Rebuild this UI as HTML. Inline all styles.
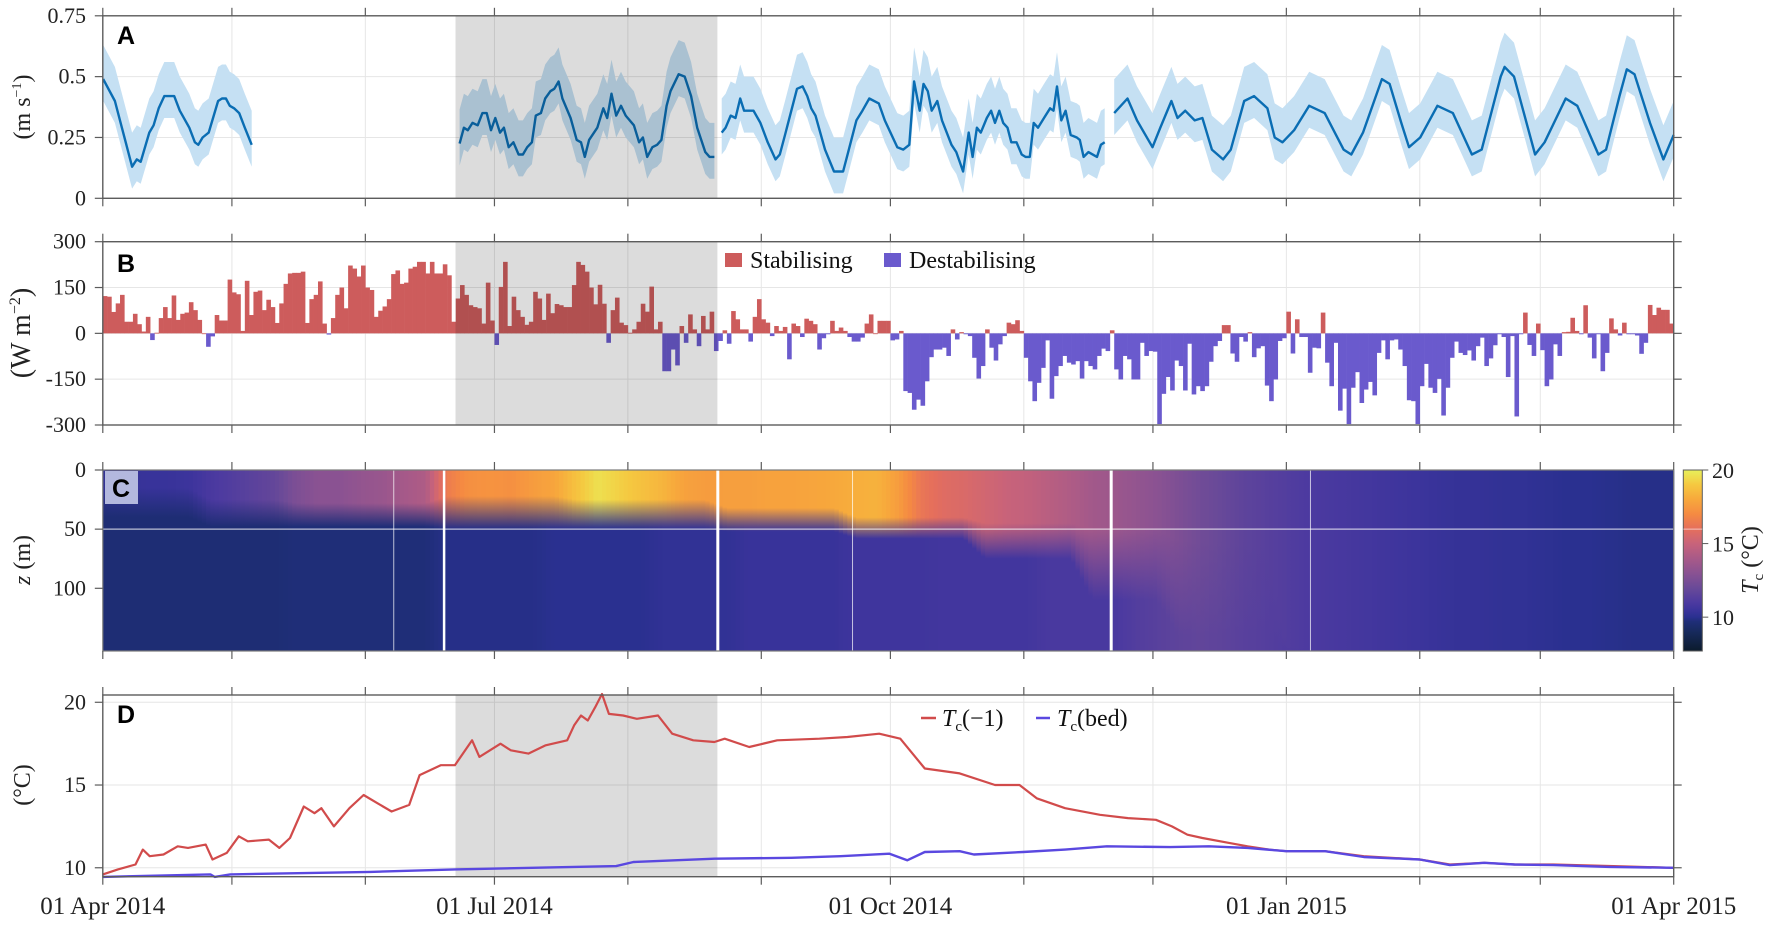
<!DOCTYPE html>
<html><head><meta charset="utf-8"><style>
html,body{margin:0;padding:0;background:#fff;}
svg{display:block;font-family:"Liberation Serif",serif;}
</style></head><body>
<svg id="fig" width="1772" height="925" viewBox="0 0 1772 925" xmlns="http://www.w3.org/2000/svg"></svg>
<script>
// ---------- DATA ----------
const monthTickDays = [0,30,61,91,122,153,183,214,244,275,306,334,365];
const xLabelDays = [0,91,183,275,365];
const xLabels = ["01 Apr 2014","01 Jul 2014","01 Oct 2014","01 Jan 2015","01 Apr 2015"];
const shadeStart = 81.95, shadeEnd = 142.8;

// Panel A: speed
const speedDays = [0.1,2.8,6.8,7.9,8.8,10.8,11.8,13,14.3,16.6,17.9,20.1,21.4,22.2,23.2,24.6,26.8,27.7,28.6,29.5,30.5,31.7,33,34.6,null,
82.9,83.9,84.8,85.9,87.1,88.2,89.2,90.2,91.2,92.3,93.2,94.3,95.4,96.6,97.6,98.6,99.7,100.6,101.8,102.8,104,104.9,105.9,106.8,108.7,110.1,111.1,112,113,114.9,116.3,117.2,118.2,119.3,120.4,121.5,123.4,124.6,125.5,126.5,127.7,128.8,129.8,131,131.9,133.8,135.2,136.7,138.1,140,141,142.1,null,
143.8,144.7,145.9,147,148.1,149,151.2,152.8,154.5,156.3,157.3,158.5,161.3,162.6,163.7,164.6,165.6,167.8,169.9,170.8,172,173.2,175.1,176.5,178.1,180.3,181.7,184.6,186,187.4,188.5,189.8,190.7,191.7,192.6,193.9,195,197.2,198.3,199.9,201.2,202.1,203.1,204,205.4,206.4,207.3,208.3,209.2,210.2,211.1,212.3,213.5,214.4,215.4,216.3,217.3,218.7,220.1,220.9,221.7,222.7,223.7,224.9,226.3,227,227.9,229,231,231.9,232.8,null,
235,238.1,240.3,243.9,245.7,248.3,249.7,251.5,253.7,255.5,257.7,260.3,262.1,265.2,267.5,270.6,272.3,274.1,276.8,280.3,283.9,288.3,290.1,292.8,297.2,299,301.7,303.5,306.1,310.1,313.7,318.1,320.4,324.8,325.7,327.9,332.8,335,339.9,342.6,347.5,349.3,352.4,354.1,355.9,359.5,362.6,365];
const speedMean = [.49,.40,.13,.16,.15,.27,.30,.37,.42,.42,.36,.29,.23,.22,.25,.27,.40,.41,.41,.38,.37,.35,.29,.22,null,
.225,.29,.28,.31,.30,.35,.35,.28,.33,.27,.29,.21,.23,.18,.18,.21,.23,.34,.35,.41,.44,.45,.48,.41,.33,.24,.23,.17,.24,.29,.37,.33,.43,.34,.38,.34,.30,.23,.25,.17,.21,.22,.24,.38,.44,.51,.50,.42,.29,.19,.17,.17,null,
.27,.29,.34,.33,.41,.36,.36,.31,.23,.16,.18,.26,.45,.46,.42,.37,.34,.20,.11,.11,.11,.19,.32,.36,.41,.39,.32,.21,.20,.22,.48,.36,.47,.44,.36,.40,.32,.22,.19,.11,.27,.17,.29,.27,.33,.36,.31,.36,.31,.29,.23,.23,.18,.17,.17,.31,.29,.33,.37,.36,.46,.32,.36,.26,.25,.24,.17,.19,.17,.22,.23,null,
.35,.41,.32,.21,.29,.40,.33,.36,.32,.33,.20,.16,.20,.40,.42,.37,.25,.23,.28,.38,.35,.20,.18,.27,.49,.47,.31,.21,.25,.38,.35,.18,.20,.50,.54,.50,.18,.23,.41,.38,.18,.20,.42,.53,.51,.31,.16,.26];
const bandUp = 0.14, bandDown = 0.09;
const speedTicks = [0,0.25,0.5,0.75];
const speedTickLabels = ["0","0.25","0.5","0.75"];

// Panel B: daily heat flux (W m^-2), day 0..364
const fluxValues = [122,120,70,98,126,38,38,64,30,6,54,-22,2,50,86,50,124,44,64,68,102,76,44,0,-44,-10,60,42,42,176,134,128,8,172,60,136,140,76,110,86,34,98,162,196,198,198,202,34,112,126,170,32,-4,50,126,150,82,222,212,186,222,150,142,54,74,88,112,194,206,162,166,212,218,234,234,196,234,196,196,226,190,38,114,158,126,92,86,82,32,166,42,-38,152,234,24,120,76,54,28,38,136,114,44,130,66,96,92,86,86,158,234,224,202,
150,95,159,97,-31,76,117,35,27,2,13,38,97,71,153,13,38,-124,-124,-53,-105,24,-31,62,13,-42,57,13,71,-58,-25,10,-34,73,46,13,13,-27,54,112,46,35,-9,24,8,21,-85,32,24,-12,48,41,30,-53,-16,-3,41,8,19,8,-12,-27,-27,-14,32,62,0,41,41,41,-23,-20,8,-189,-195,-250,-217,-237,-157,-78,-53,-53,-47,-74,13,-20,4,-3,-9,-80,-148,-107,13,-47,-89,-36,-9,35,30,43,8,-80,-157,-222,-162,-113,-23,-214,-140,-107,-74,-96,-102,-91,-148,-91,-107,-118,-74,-50,-58,10,-118,-151,-74,-85,-151,-151,
-31,-74,-58,-60,-297,-198,-143,-187,-89,-107,-187,-34,-200,-173,-189,-173,-93,-42,-25,27,27,-66,-93,-12,-27,4,-78,-49,-42,-171,-222,-151,-25,-16,71,-66,46,-12,-12,-129,-47,-49,68,-96,-173,-31,-253,-181,-297,-178,-127,-228,-184,-159,-203,-64,-23,-85,-23,-20,-53,-107,-219,-222,-297,-173,-100,-178,-195,-149,-269,-178,-80,-27,-64,-71,-56,-89,-42,-14,-107,-82,-39,-3,-12,-143,-9,-272,-3,68,-38,-74,32,-55,-173,-151,-36,-74,4,5,51,8,-3,92,-14,-82,-3,-124,-64,49,13,-7,35,-3,-3,-7,-67,-31,93,60,84,77,77,32];
const fluxTicks = [-300,-150,0,150,300];
const fluxTickLabels = ["-300","-150","0","150","300"];

// Panel C: temperature section
const heatDays = [0,5,10,15,20,25,30,35,40,45,50,55,60,65,70,75,80,85,90,95,100,105,110,115,120,125,130,135,140,145,150,155,160,165,170,175,180,185,190,195,200,205,210,215,220,225,230,235,240,245,250,255,260,265,270,275,280,285,290,295,300,305,310,315,320,325,330,335,340,345,350,355,360,365];
const surfT = [10.2,10.3,10.4,10.4,10.5,10.9,11.2,11.5,11.8,12.6,13.0,13.0,13.3,13.5,13.9,14.2,16.5,17.2,17.3,17.2,17.6,17.9,18.8,19.6,19.2,18.8,18.4,17.8,17.6,17.7,17.7,17.8,17.8,17.9,18.0,18.2,18.3,17.6,16.3,15.8,15.6,15.3,15.0,14.8,14.5,14.2,13.8,13.6,13.3,13.0,12.6,12.2,11.9,11.6,11.4,11.2,11.0,10.9,10.8,10.7,10.6,10.5,10.4,10.3,10.3,10.2,10.2,10.1,10.0,10.0,9.95,9.9,9.9,9.9];
const bedT = [9.6,9.6,9.6,9.6,9.6,9.6,9.6,9.6,9.6,9.7,9.7,9.7,9.7,9.7,9.7,9.7,9.9,9.9,9.9,9.9,9.9,10.0,10.0,10.0,10.0,10.0,10.2,10.2,10.2,10.2,10.4,10.4,10.4,10.4,10.4,10.6,10.6,10.6,10.6,10.7,10.7,10.7,10.7,10.7,10.9,10.9,10.9,10.9,11.2,11.4,11.6,11.7,11.6,11.4,11.3,11.1,11.0,10.9,10.8,10.7,10.6,10.5,10.4,10.3,10.3,10.2,10.2,10.1,10.0,10.0,9.95,9.9,9.9,9.9];
const mldTop = [15,15,15,15,15,25,25,25,25,28,28,28,28,28,28,28,22,22,22,22,22,22,25,25,25,25,25,25,25,32,32,32,32,32,32,40,40,40,40,40,40,45,45,45,45,45,50,50,50,50,60,60,60,60,60,150,150,150,150,150,150,150,150,150,150,150,150,150,150,150,150,150,150,150];
const mldBottom = [40,40,40,40,40,48,48,48,48,48,48,48,48,48,48,48,50,50,50,50,50,50,50,50,50,50,50,50,50,52,52,52,52,52,52,58,58,58,58,58,58,75,75,75,75,75,110,110,110,110,140,140,140,140,140,153,153,153,153,153,153,153,153,153,153,153,153,153,153,153,153,153,153,153];
const gapDays = [67.6,79.3,142.9,174.2,234.3,280.6];
const gapWidths = [1,2.5,3,1,3,1];
const depthTicks = [0,50,100];
const cbTicks = [10,15,20];

// Panel D: temperature series
const redDays = [0,3.5,7.6,9.3,10.9,14.1,17.4,19.8,23.9,25.5,28.8,31.6,33.7,38.6,41,43.5,46.7,49.2,50.8,53.7,57.3,60.6,63.8,67.1,71.2,73.6,78.5,81.8,85.8,87.5,92.4,94.8,98.9,102.9,107.9,109.5,111.1,112.7,114.4,116,117.6,120.9,124.1,129,132.3,137.2,142.1,144.5,150.2,156.7,166.5,173,180.4,185.3,191,199.1,207.3,213,217,223.6,231.7,238.2,244.7,248.4,252,255.5,261.7,266,271,275,284,293,306,313,321,328,337,351,365];
const redT = [9.6,9.9,10.2,11.1,10.7,10.8,11.3,11.2,11.4,10.5,10.9,11.9,11.6,11.7,11.2,11.8,13.7,13.3,13.6,12.5,13.6,14.4,13.9,13.4,13.8,15.6,16.2,16.2,17.7,16.7,17.5,17.1,16.9,17.4,17.7,18.6,19.2,18.9,19.7,20.5,19.3,19.2,19.0,19.2,18.1,17.7,17.6,17.8,17.3,17.7,17.8,17.9,18.1,17.8,16.0,15.7,15.0,15.0,14.2,13.6,13.2,13.0,12.9,12.5,12.0,11.8,11.5,11.3,11.1,11.0,11.0,10.7,10.5,10.2,10.3,10.2,10.2,10.1,10.0];
const bedDays = [0,25,26,29.6,62.2,81.8,119.3,123.3,142.1,160,171.4,182.8,186.9,191,199.1,202.4,213.8,223.6,233.3,248,257,266,275,284,293,306,313,321,328,337,350,365];
const bedSeries = [9.45,9.6,9.45,9.6,9.75,9.9,10.1,10.35,10.55,10.6,10.7,10.85,10.45,10.95,11.0,10.8,10.95,11.1,11.3,11.25,11.3,11.2,11.0,11.0,10.65,10.5,10.16,10.3,10.2,10.16,10.05,10.0];
const tempTicks = [10,15,20];

// ---------- LAYOUT ----------
const X0 = 102.8, X1 = 1673.7;
const xs = d => X0 + d/365*(X1-X0);
const A = {top:15.8,bottom:198.3,min:0,max:0.75};
const B = {top:241.7,bottom:425,min:-300,max:300};
const C = {top:470,bottom:651,min:0,max:153};
const D = {top:695,bottom:876.7,min:9.46,max:20.44};
const yA = v => A.bottom - (v-A.min)/(A.max-A.min)*(A.bottom-A.top);
const yB = v => B.bottom - (v-B.min)/(B.max-B.min)*(B.bottom-B.top);
const yC = z => C.top + (z-C.min)/(C.max-C.min)*(C.bottom-C.top);
const yD = v => D.bottom - (v-D.min)/(D.max-D.min)*(D.bottom-D.top);

const svg = document.getElementById('fig');
const NS = "http://www.w3.org/2000/svg";
function el(tag, attrs, parent){const e=document.createElementNS(NS,tag);for(const k in attrs)e.setAttribute(k,attrs[k]);(parent||svg).appendChild(e);return e;}
function txt(s, attrs, parent){const t=el('text',attrs,parent);t.textContent=s;return t;}

const defs = el('defs',{});

// colormap
const cmap = [[7.7,[11,27,44]],[9,[23,42,92]],[9.7,[31,46,120]],[10,[42,48,144]],[10.5,[60,52,156]],[11,[76,58,160]],[12,[106,74,152]],[13,[138,82,146]],[14,[168,90,136]],[15,[200,99,122]],[16,[229,111,92]],[17,[245,138,66]],[18,[247,168,60]],[19,[245,200,64]],[20,[232,240,90]]];
function color(t){
  if(t<=cmap[0][0])return 'rgb('+cmap[0][1]+')';
  for(let i=1;i<cmap.length;i++){if(t<=cmap[i][0]){const a=cmap[i-1],b=cmap[i];const f=(t-a[0])/(b[0]-a[0]);return 'rgb('+a[1].map((c,j)=>Math.round(c+(b[1][j]-c)*f)).join(',')+')';}}
  return 'rgb('+cmap[cmap.length-1][1]+')';
}
function interp(days, vals, d){
  if(d<=days[0])return vals[0];
  for(let i=1;i<days.length;i++){ if(d<=days[i]){const f=(d-days[i-1])/(days[i]-days[i-1]);return vals[i-1]+(vals[i]-vals[i-1])*f;} }
  return vals[vals.length-1];
}

function gridAndFrame(P, yf, ticks, labels, name){
  const g = el('g',{});
  
  
  monthTickDays.forEach(d=>{ el('line',{x1:xs(d),x2:xs(d),y1:P.top,y2:P.bottom,stroke:'#e6e6e6','stroke-width':1},g); });
  ticks.forEach(v=>{ el('line',{x1:X0,x2:X1,y1:yf(v),y2:yf(v),stroke:'#e6e6e6','stroke-width':1},g); });
}
function frame(P, yf, ticks, labels, name, rightTicks){
  const g = el('g',{});
  
  
  el('rect',{x:X0,y:P.top,width:X1-X0,height:P.bottom-P.top,fill:'none',stroke:'#5c5c5c','stroke-width':1.4},g);
  monthTickDays.forEach(d=>{
    el('line',{x1:xs(d),x2:xs(d),y1:P.top,y2:P.top-8,stroke:'#5c5c5c','stroke-width':1.2},g);
    el('line',{x1:xs(d),x2:xs(d),y1:P.bottom,y2:P.bottom+8,stroke:'#5c5c5c','stroke-width':1.2},g);
  });
  ticks.forEach((v,i)=>{
    el('line',{x1:X0-8,x2:X0,y1:yf(v),y2:yf(v),stroke:'#5c5c5c','stroke-width':1.2},g);
    if(rightTicks) el('line',{x1:X1,x2:X1+8,y1:yf(v),y2:yf(v),stroke:'#5c5c5c','stroke-width':1.2},g);
    const t = txt(labels[i],{x:86,y:yf(v)+7,'text-anchor':'end','font-size':22,fill:'#222'},g);
    
    
  });
}
function shade(P,name){
  const r = el('rect',{x:xs(shadeStart),y:P.top,width:xs(shadeEnd)-xs(shadeStart),height:P.bottom-P.top,fill:'#dcdcdc',style:'mix-blend-mode:multiply'});
  
  
}
function panelLetter(s,x,y,name){
  const t = txt(s,{x:x,y:y,'font-family':'"Liberation Sans",sans-serif','font-weight':'bold','font-size':25,fill:'#000'});
  
  
}
function yTitle(parts,x,y,size,name){
  const t = el('text',{transform:`translate(${x},${y}) rotate(-90)`,'text-anchor':'middle','font-size':size,fill:'#222'});
  
  
  parts.forEach(p=>{const s=el('tspan',p[1]||{},t);s.textContent=p[0];});
}

// ---------- PANEL A ----------
gridAndFrame(A,yA,speedTicks,speedTickLabels,'panel-a');
{
  const gA = el('g',{});
  
  
  let segs=[[]];
  speedDays.forEach((d,i)=>{ if(d===null){segs.push([]);} else segs[segs.length-1].push(i); });
  segs.forEach(s=>{
    if(!s.length)return;
    const up = s.map(i=>xs(speedDays[i]).toFixed(1)+','+yA(speedMean[i]+bandUp).toFixed(1));
    const dn = s.slice().reverse().map(i=>xs(speedDays[i]).toFixed(1)+','+yA(Math.max(0.02,speedMean[i]-bandDown)).toFixed(1));
    const band = el('polygon',{points:up.concat(dn).join(' '),fill:'#c5e0f3'},gA);
    
    
    const line = el('polyline',{points:s.map(i=>xs(speedDays[i]).toFixed(1)+','+yA(speedMean[i]).toFixed(1)).join(' '),fill:'none',stroke:'#0a6db3','stroke-width':2.4,'stroke-linejoin':'round'},gA);
    
    
  });
}
shade(A,'panel-a');
frame(A,yA,speedTicks,speedTickLabels,'panel-a',true);
panelLetter('A',117,44,'panel-a-label');
yTitle([['(m s'],['−1',{'font-size':14,dy:-9}],[')',{dy:9}]],30,107,24,'panel-a-y-title');

// ---------- PANEL B ----------
gridAndFrame(B,yB,fluxTicks,fluxTickLabels,'panel-b');
{
  const gB = el('g',{});
  
  
  const w = xs(1)-xs(0);
  fluxValues.forEach((v,i)=>{
    if(i>=365)return;
    const y0=yB(0), y1=yB(v);
    const r = el('rect',{x:xs(i).toFixed(2),y:Math.min(y0,y1).toFixed(2),width:(w+0.3).toFixed(2),height:Math.max(0.8,Math.abs(y1-y0)).toFixed(2),fill:v>=0?'#cd5c5c':'#6a5acd'},gB);
    
    
  });
}
shade(B,'panel-b');
frame(B,yB,fluxTicks,fluxTickLabels,'panel-b',true);
panelLetter('B',117,272,'panel-b-label');
yTitle([['(W  m'],['−2',{'font-size':16,dy:-10}],[')',{dy:10}]],30,333,28,'panel-b-y-title');
{
  const lg = el('g',{});
  
  
  const s1=el('rect',{x:725,y:253,width:17,height:14,fill:'#cd5c5c'},lg);
  
  
  const t1=txt('Stabilising',{x:750,y:268,'font-size':24,fill:'#111'},lg);
  
  
  const s2=el('rect',{x:884,y:253,width:17,height:14,fill:'#6a5acd'},lg);
  
  
  const t2=txt('Destabilising',{x:909,y:268,'font-size':24,fill:'#111'},lg);
  
  
}

// ---------- PANEL C ----------
{
  const gC = el('g',{});
  
  
  const step = 1;
  for(let d=0; d<365; d+=step){
    const dm = d+step/2;
    const st = interp(heatDays,surfT,dm), bt = interp(heatDays,bedT,dm);
    const mt = interp(heatDays,mldTop,dm), mb = interp(heatDays,mldBottom,dm);
    const gid='cg'+d;
    const lgEl = el('linearGradient',{id:gid,x1:0,x2:0,y1:yC(Math.min(mt,mb-2)),y2:yC(mb),gradientUnits:'userSpaceOnUse'},defs);
    el('stop',{offset:0,'stop-color':color(st)},lgEl);
    el('stop',{offset:1,'stop-color':color(bt)},lgEl);
    const x=xs(d), w=xs(d+step)-x+0.6;
    const r = el('rect',{x:x.toFixed(2),y:C.top,width:w.toFixed(2),height:C.bottom-C.top,fill:`url(#${gid})`},gC);
    
    
  }
  gapDays.forEach((d,i)=>{
    const l = el('line',{x1:xs(d),x2:xs(d),y1:C.top,y2:C.bottom,stroke:'#fff','stroke-width':gapWidths[i],'stroke-opacity':gapWidths[i]>2?1:0.7},gC);
    
    
  });
  el('line',{x1:X0,x2:X1,y1:yC(50),y2:yC(50),stroke:'#fff','stroke-width':1.2,'stroke-opacity':0.7},gC);
}
{
  const g = el('g',{});
  
  
  el('rect',{x:X0,y:C.top,width:X1-X0,height:C.bottom-C.top,fill:'none',stroke:'#7a7a7a','stroke-width':1.2},g);
  monthTickDays.forEach(d=>{
    el('line',{x1:xs(d),x2:xs(d),y1:C.top,y2:C.top-8,stroke:'#5c5c5c','stroke-width':1.2},g);
    el('line',{x1:xs(d),x2:xs(d),y1:C.bottom,y2:C.bottom+8,stroke:'#5c5c5c','stroke-width':1.2},g);
  });
  depthTicks.forEach(z=>{
    el('line',{x1:X0-8,x2:X0,y1:yC(z),y2:yC(z),stroke:'#5c5c5c','stroke-width':1.2},g);
    const t=txt(String(z),{x:86,y:yC(z)+7,'text-anchor':'end','font-size':22,fill:'#222'},g);
    
    
  });
}
{
  const box = el('rect',{x:105,y:471,width:33,height:33,fill:'#b3b8de'});
  
  
  panelLetter('C',112,497,'panel-c-label');
}
yTitle([['z',{'font-style':'italic'}],[' (m)']],30,560,24,'panel-c-y-title');
// colorbar
{
  const cb = el('g',{});
  
  
  const cbx=1683.3, cbw=19, tmin=7.7, tmax=20;
  const ycb = t => C.bottom - (t-tmin)/(tmax-tmin)*(C.bottom-C.top);
  const lg = el('linearGradient',{id:'cbg',x1:0,y1:1,x2:0,y2:0},defs);
  cmap.forEach(s=>{ el('stop',{offset:((s[0]-tmin)/(tmax-tmin)).toFixed(3),'stop-color':'rgb('+s[1]+')'},lg); });
  el('rect',{x:cbx,y:C.top,width:cbw,height:C.bottom-C.top,fill:'url(#cbg)',stroke:'#5c5c5c','stroke-width':1},cb);
  el('line',{x1:cbx,x2:cbx+cbw,y1:yC(50),y2:yC(50),stroke:'#fff','stroke-opacity':0.6},cb);
  cbTicks.forEach(t=>{
    el('line',{x1:cbx+cbw,x2:cbx+cbw+6,y1:ycb(t),y2:ycb(t),stroke:'#5c5c5c'},cb);
    const l=txt(String(t),{x:1712,y:ycb(t)+8,'font-size':22,fill:'#222'},cb);
    
    
  });
  const tt = el('text',{transform:'translate(1758,560) rotate(-90)','text-anchor':'middle','font-size':24,fill:'#222'},cb);
  
  
  const a=el('tspan',{'font-style':'italic'},tt);a.textContent='T';
  const b=el('tspan',{'font-size':15,dy:5},tt);b.textContent='c';
  const c=el('tspan',{dy:-5},tt);c.textContent=' (°C)';
}

// ---------- PANEL D ----------
gridAndFrame(D,yD,tempTicks,tempTicks.map(String),'panel-d');
shade(D,'panel-d');
{
  const gD = el('g',{});
  
  
  const r = el('polyline',{points:redDays.map((d,i)=>xs(d).toFixed(1)+','+yD(redT[i]).toFixed(1)).join(' '),fill:'none',stroke:'#d14b4b','stroke-width':2.2,'stroke-linejoin':'round'},gD);
  
  
  const b = el('polyline',{points:bedDays.map((d,i)=>xs(d).toFixed(1)+','+yD(bedSeries[i]).toFixed(1)).join(' '),fill:'none',stroke:'#5a48e0','stroke-width':2.4,'stroke-linejoin':'round'},gD);
  
  
}
frame(D,yD,tempTicks,tempTicks.map(String),'panel-d',true);
panelLetter('D',117,723,'panel-d-label');
yTitle([['(°C)']],30,785,24,'panel-d-y-title');
{
  const lg = el('g',{});
  
  
  el('line',{x1:921,x2:936,y1:718,y2:718,stroke:'#d14b4b','stroke-width':2.5},lg);
  const t1=el('text',{x:942,y:726,'font-size':24,fill:'#111'},lg);
  
  
  let s=el('tspan',{'font-style':'italic'},t1);s.textContent='T';
  s=el('tspan',{'font-size':15,dy:5},t1);s.textContent='c';
  s=el('tspan',{dy:-5},t1);s.textContent='(−1)';
  el('line',{x1:1036,x2:1050,y1:718,y2:718,stroke:'#5a48e0','stroke-width':2.5},lg);
  const t2=el('text',{x:1057,y:726,'font-size':24,fill:'#111'},lg);
  
  
  s=el('tspan',{'font-style':'italic'},t2);s.textContent='T';
  s=el('tspan',{'font-size':15,dy:5},t2);s.textContent='c';
  s=el('tspan',{dy:-5},t2);s.textContent='(bed)';
}

// x labels
xLabelDays.forEach((d,i)=>{
  const t=txt(xLabels[i],{x:xs(d),y:914,'text-anchor':'middle','font-size':25,fill:'#222'});
  
  
});
</script>
</body></html>
